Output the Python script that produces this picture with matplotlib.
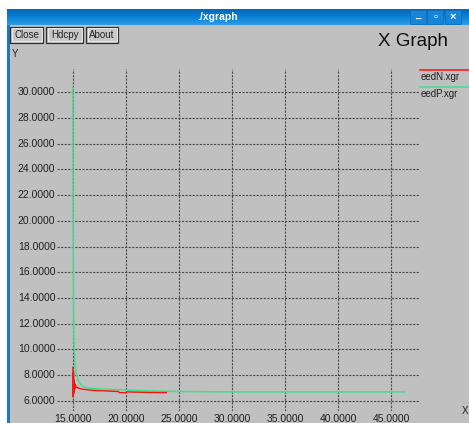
import numpy as np
import matplotlib.pyplot as plt
from matplotlib.patches import Rectangle
from matplotlib.colors import LinearSegmentedColormap

plt.rcParams['font.family'] = ['Liberation Sans', 'DejaVu Sans']

# data
eedN_x = [15.0, 15.03, 15.06, 15.1, 15.13, 15.17, 15.2, 15.3, 15.5, 15.7, 16.0, 16.5,
          17.0, 17.5, 18.0, 18.5, 19.0, 19.3, 19.35, 20.0, 20.05, 21.0, 22.0, 23.0, 23.8]
eedN_y = [8.6, 6.3, 8.2, 6.6, 7.6, 6.9, 7.3, 7.1, 7.0, 6.95, 6.9, 6.85,
          6.82, 6.8, 6.78, 6.76, 6.74, 6.73, 6.64, 6.64, 6.70, 6.68, 6.66, 6.65, 6.65]
eedP_x = [15.0, 15.02, 15.05, 15.1, 15.2, 15.3, 15.5, 15.7, 16.0, 16.5, 17.0, 18.0,
          19.0, 20.0, 22.0, 25.0, 30.0, 35.0, 40.0, 46.2]
eedP_y = [30.4, 20.0, 14.0, 10.5, 8.9, 8.2, 7.6, 7.3, 7.1, 7.0, 6.97, 6.92,
          6.88, 6.85, 6.78, 6.73, 6.7, 6.7, 6.7, 6.7]
legend_names = ['eedN.xgr', 'eedP.xgr']
xticks = [15, 20, 25, 30, 35, 40, 45]
yticks = [6, 8, 10, 12, 14, 16, 18, 20, 22, 24, 26, 28, 30]

W, H = 469, 423
GRAY = '#c0c0c0'
RED = '#ff1010'
GREEN = '#3ee08e'
GRID = '#4a4a4a'


def fx(x):
    return x / W


def fy(y):
    return 1 - y / H


fig = plt.figure(figsize=(W / 100, H / 100), dpi=100)
fig.patch.set_facecolor('white')

# window background + left border
fig.patches.append(Rectangle((fx(7), 0), 1, fy(25), transform=fig.transFigure,
                             facecolor=GRAY, edgecolor='none', zorder=-5))
fig.patches.append(Rectangle((fx(7), 0), fx(2.5), fy(25), transform=fig.transFigure,
                             facecolor='#1a78c2', edgecolor='none', zorder=-4))

# title bar gradient
tb = fig.add_axes([fx(7), fy(25), 1 - fx(7), fy(9) - fy(25)])
grad = np.linspace(0, 1, 50).reshape(-1, 1)
tb.imshow(grad, aspect='auto', extent=[0, 1, 0, 1],
          cmap=LinearSegmentedColormap.from_list('tb', ['#0568b8', '#0a80d4', '#2f9de8']))
tb.set_xlim(0, 1)
tb.set_ylim(0, 1)
tb.set_axis_off()
tb.text((218 - 7) / (W - 7), 0.5, './xgraph', color='white', fontsize=7.5, fontweight='bold',
        ha='center', va='center', transform=tb.transAxes)
for bx, sym in [(418, '_'), (435, '▫'), (453, '×')]:
    tb.add_patch(Rectangle(((bx - 8 - 7) / (W - 7), 0.05), 16 / (W - 7), 0.9,
                           facecolor='#1685d8', edgecolor='#0b6cb8', lw=0.5))
    tb.text((bx - 7) / (W - 7), 0.5 if sym != '_' else 0.65, sym, color='white',
            fontsize=8 if sym != '_' else 7, fontweight='bold',
            ha='center', va='center', transform=tb.transAxes)

# buttons
for x0, x1, label in [(10, 43, 'Close'), (46, 83, 'Hdcpy'), (86, 118, 'About')]:
    fig.patches.append(Rectangle((fx(x0), fy(43)), fx(x1 - x0), fy(27) - fy(43),
                                 transform=fig.transFigure, facecolor='#c8c8c8',
                                 edgecolor='#303030', lw=0.9, zorder=2))
    fig.patches.append(Rectangle((fx(x0 + 1.5), fy(41.5)), fx(x1 - x0 - 3), fy(28.5) - fy(41.5),
                                 transform=fig.transFigure, facecolor='none',
                                 edgecolor='#f0f0f0', lw=0.6, zorder=3))
    fig.text(fx((x0 + x1) / 2), fy(35), label, fontsize=7, ha='center', va='center',
             color='#202020', zorder=4)

fig.text(fx(413), fy(41), 'X Graph', fontsize=13.5, ha='center', va='center', color='#101010')
fig.text(fx(12), fy(54), 'Y', fontsize=7, ha='left', va='center', color='#202020')
fig.text(fx(465), fy(411), 'X', fontsize=7, ha='center', va='center', color='#202020')

# plot area
ax = fig.add_axes([fx(57), fy(411), fx(420 - 57), fy(69) - fy(411)])
ax.patch.set_alpha(0)
x_lo = 15 - (72.9 - 57) / 10.62
x_hi = 15 + (420 - 72.9) / 10.62
y_lo = 6 - (411 - 400.9) / 12.86
y_hi = 30 + (92.3 - 69) / 12.86
ax.set_xlim(x_lo, x_hi)
ax.set_ylim(y_lo, y_hi)
for s in ax.spines.values():
    s.set_visible(False)
ax.set_xticks([])
ax.set_yticks([])

for xv in xticks:
    ax.axvline(xv, color=GRID, lw=0.8, ls=(0, (2, 1.2)), zorder=1)
    ax.text(xv, y_lo - 0.25, f'{xv:.4f}', fontsize=7.5, ha='center', va='top',
            color='#202020', clip_on=False)
for yv in yticks:
    ax.axhline(yv, color=GRID, lw=0.8, ls=(0, (2, 1.2)), zorder=1)
    ax.text(x_lo - 0.15, yv, f'{yv:.4f}', fontsize=7.5, ha='right', va='center',
            color='#202020', clip_on=False)

ax.plot(eedP_x, eedP_y, color=GREEN, lw=1.1, zorder=3)
ax.plot(eedN_x, eedN_y, color=RED, lw=1.0, zorder=4)

# legend at right of plot
for i, (name, col) in enumerate(zip(legend_names, [RED, GREEN])):
    ly = 70.5 + i * 16.7
    fig.add_artist(plt.Line2D([fx(420), 1], [fy(ly), fy(ly)], color=col, lw=1.1,
                              transform=fig.transFigure))
    fig.text(fx(420.5), fy(ly + 7), name, fontsize=7, ha='left', va='center',
             color='#202020')

fig.savefig('out.png', dpi=100, facecolor=fig.get_facecolor())
